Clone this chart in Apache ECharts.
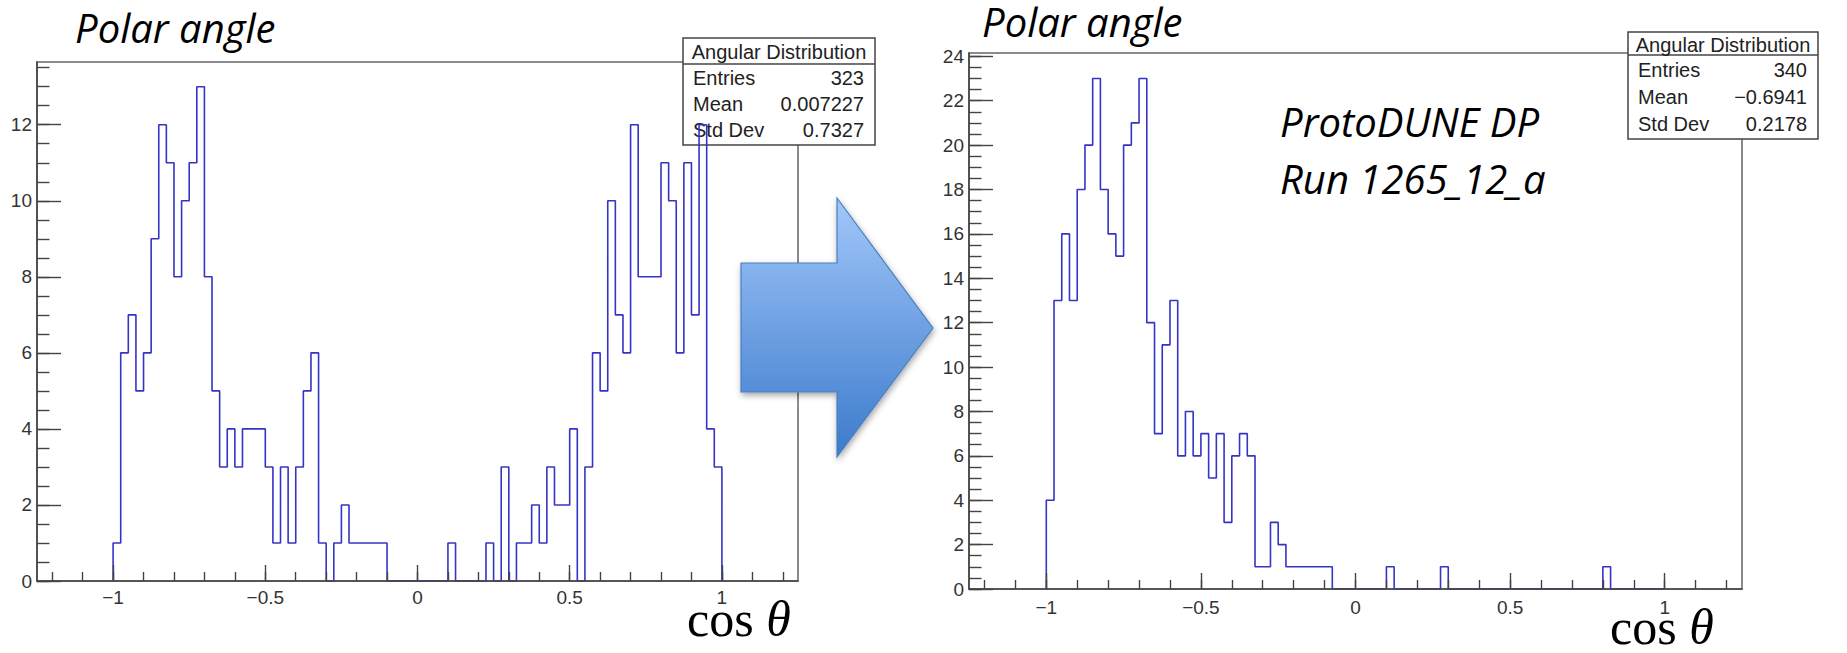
<!DOCTYPE html>
<html>
<head>
<meta charset="utf-8">
<script src="https://cdn.jsdelivr.net/npm/echarts@6/dist/echarts.min.js"></script>
<style>
  html, body { margin: 0; padding: 0; background: #ffffff; }
  #chart { width: 1847px; height: 653px; }
</style>
</head>
<body>
<div id="chart"></div>
<script>
// Angular distribution histograms: 80 bins of width 0.025 covering cos(theta) in [-1, 1]
const binLow = -1;
const binWidth = 0.025;

// Left panel: counts per bin
const countsBefore = [
  1, 6, 7, 5, 6, 9, 12, 11, 8, 10, 11, 13, 8, 5, 3, 4, 3, 4, 4, 4,
  3, 1, 3, 1, 3, 5, 6, 1, 0, 1, 2, 1, 1, 1, 1, 1, 0, 0, 0, 0,
  0, 0, 0, 0, 1, 0, 0, 0, 0, 1, 0, 3, 0, 1, 1, 2, 1, 3, 2, 2,
  4, 0, 3, 6, 5, 10, 7, 6, 12, 8, 8, 8, 11, 10, 6, 11, 7, 12, 4, 3
];

// Right panel: counts per bin
const countsAfter = [
  4, 13, 16, 13, 18, 20, 23, 18, 16, 15, 20, 21, 23, 12, 7, 11, 13, 6, 8, 6,
  7, 5, 7, 3, 6, 7, 6, 1, 1, 3, 2, 1, 1, 1, 1, 1, 1, 0, 0, 0,
  0, 0, 0, 0, 1, 0, 0, 0, 0, 0, 0, 1, 0, 0, 0, 0, 0, 0, 0, 0,
  0, 0, 0, 0, 0, 0, 0, 0, 0, 0, 0, 0, 1, 0, 0, 0, 0, 0, 0, 0
];

// Axis ranges and tick labels
const xRange = [-1.25, 1.25];
const xTickLabels = [-1, -0.5, 0, 0.5, 1];
const yMaxBefore = 13.65;
const yMaxAfter = 24.15;
const yTickLabelsBefore = [0, 2, 4, 6, 8, 10, 12];
const yTickLabelsAfter = [0, 2, 4, 6, 8, 10, 12, 14, 16, 18, 20, 22, 24];

// Statistics boxes
const statsTitle = 'Angular Distribution';
const statsNames = ['Entries', 'Mean', 'Std Dev'];
const statsBefore = ['323', '0.007227', '0.7327'];
const statsAfter = ['340', '\u22120.6941', '0.2178'];

const panelTitle = 'Polar angle';
const runLines = ['ProtoDUNE DP', 'Run 1265_12_a'];

// ---- helpers ----
function stepPoints(counts) {
  const pts = [[binLow, 0]];
  counts.forEach(function (c, i) { pts.push([binLow + i * binWidth, c]); });
  pts.push([binLow + counts.length * binWidth, 0]);
  return pts;
}
function minorList(from, to, step) {
  const out = [];
  for (let v = from; v <= to + 1e-9; v += step) out.push(Math.round(v * 1000) / 1000);
  return out;
}
const xMinor = minorList(-1.2, 1.2, 0.1);
const fmtNum = function (v) { return v < 0 ? '\u2212' + Math.abs(v) : String(v); };

const axisColor = '#444';
const labelFont = { fontFamily: 'Liberation Sans, Arial, sans-serif', fontSize: 19, color: '#333' };

const grids = [
  { left: 37, top: 62, width: 761, height: 519, show: true, borderColor: '#666', borderWidth: 1.5 },
  { left: 969, top: 53, width: 773, height: 536, show: true, borderColor: '#666', borderWidth: 1.5 }
];

function xAxes(g) {
  return [
    {
      gridIndex: g, type: 'value', min: xRange[0], max: xRange[1], position: 'bottom', z: 3,
      axisLine: { show: true, onZero: false, lineStyle: { color: axisColor, width: 1.6 } },
      axisTick: { show: true, inside: true, length: 16, customValues: xTickLabels, lineStyle: { color: axisColor, width: 1.4 } },
      axisLabel: Object.assign({ customValues: xTickLabels, formatter: fmtNum, margin: g === 0 ? 7 : 9 }, labelFont),
      splitLine: { show: false }
    },
    {
      gridIndex: g, type: 'value', min: xRange[0], max: xRange[1], position: 'bottom', z: 3,
      axisLine: { show: false, onZero: false },
      axisTick: { show: true, inside: true, length: 9, customValues: xMinor, lineStyle: { color: axisColor, width: 1.4 } },
      axisLabel: { show: false },
      splitLine: { show: false }
    }
  ];
}
function yAxes(g, yMax, labels) {
  return [
    {
      gridIndex: g, type: 'value', min: 0, max: yMax, position: 'left', z: 3,
      axisLine: { show: true, onZero: false, lineStyle: { color: axisColor, width: 1.6 } },
      axisTick: { show: true, inside: true, length: 24, customValues: labels, lineStyle: { color: axisColor, width: 1.4 } },
      axisLabel: Object.assign({ customValues: labels, margin: 5 }, labelFont),
      splitLine: { show: false }
    },
    {
      gridIndex: g, type: 'value', min: 0, max: yMax, position: 'left', z: 3,
      axisLine: { show: false, onZero: false },
      axisTick: { show: true, inside: true, length: 12.5, customValues: minorList(0, Math.floor(yMax * 2) / 2, 0.5), lineStyle: { color: axisColor, width: 1.4 } },
      axisLabel: { show: false },
      splitLine: { show: false }
    }
  ];
}

function histSeries(counts, g) {
  return {
    type: 'line', xAxisIndex: g * 2, yAxisIndex: g * 2, step: 'end',
    data: stepPoints(counts), symbol: 'none', showSymbol: false, z: 2,
    lineStyle: { color: '#3434c6', width: 1.6 }, animation: false
  };
}

// stats box drawn as a framed table
function statsBox(x, y, w, headH, rowH, values) {
  const font = '20px "Liberation Sans", Arial, sans-serif';
  const children = [
    { type: 'rect', shape: { x: x, y: y, width: w, height: headH + rowH * 3 + 3 },
      style: { fill: '#ffffff', stroke: '#444', lineWidth: 1.5 } },
    { type: 'line', shape: { x1: x, y1: y + headH, x2: x + w, y2: y + headH },
      style: { stroke: '#444', lineWidth: 1.5 } },
    { type: 'text', style: { text: statsTitle, x: x + w / 2, y: y + headH / 2 + 1, align: 'center', verticalAlign: 'middle',
      font: font, fill: '#222' } }
  ];
  statsNames.forEach(function (name, i) {
    const cy = y + headH + rowH * (i + 0.5) + 1;
    children.push({ type: 'text', style: { text: name, x: x + 10, y: cy, align: 'left', verticalAlign: 'middle',
      font: font, fill: '#222' } });
    children.push({ type: 'text', style: { text: values[i], x: x + w - 11, y: cy, align: 'right', verticalAlign: 'middle',
      font: font, fill: '#222' } });
  });
  return { type: 'group', z: 20, children: children };
}

function cosTheta(x, y) {
  return {
    type: 'text', z: 20,
    style: {
      x: x, y: y, verticalAlign: 'middle',
      text: '{n|cos }{i|\u03b8}',
      rich: {
        n: { fontFamily: '"Liberation Serif", "DejaVu Serif", serif', fontSize: 50, lineHeight: 38, fill: '#000' },
        i: { fontFamily: '"Liberation Serif", "DejaVu Serif", serif', fontSize: 50, lineHeight: 38, fontStyle: 'italic', fill: '#000' }
      }
    }
  };
}

const italicFont = 'italic 40px "Open Sans", "Noto Sans", sans-serif';

const chart = echarts.init(document.getElementById('chart'), null, { renderer: 'svg', width: 1847, height: 653 });
chart.setOption({
  animation: false,
  backgroundColor: '#ffffff',
  grid: grids,
  xAxis: xAxes(0).concat(xAxes(1)),
  yAxis: yAxes(0, yMaxBefore, yTickLabelsBefore).concat(yAxes(1, yMaxAfter, yTickLabelsAfter)),
  series: [histSeries(countsBefore, 0), histSeries(countsAfter, 1)],
  graphic: [
    { type: 'text', z: 20, style: { text: panelTitle, x: 75, y: 27, verticalAlign: 'middle', font: italicFont, fill: '#000' } },
    { type: 'text', z: 20, style: { text: panelTitle, x: 982, y: 21, verticalAlign: 'middle', font: italicFont, fill: '#000' } },
    { type: 'text', z: 20, style: { text: runLines[0], x: 1280, y: 121, verticalAlign: 'middle', font: italicFont, fill: '#000' } },
    { type: 'text', z: 20, style: { text: runLines[1], x: 1280, y: 178, verticalAlign: 'middle', font: italicFont, fill: '#000' } },
    statsBox(683, 38, 192, 26, 26, statsBefore),
    statsBox(1628, 32, 190, 23, 27, statsAfter),
    cosTheta(687, 619),
    cosTheta(1610, 627),
    {
      type: 'polygon', z: 30,
      shape: { points: [[741, 263], [837, 263], [837, 198], [933, 328], [837, 457], [837, 392], [741, 392]] },
      style: {
        fill: { type: 'linear', x: 0, y: 0, x2: 0, y2: 1,
          colorStops: [{ offset: 0, color: '#a2c7fa' }, { offset: 1, color: '#3b7bcb' }] },
        stroke: '#4a7ec0', lineWidth: 1.2,
        shadowBlur: 6, shadowColor: 'rgba(0,0,0,0.35)', shadowOffsetY: 3, shadowOffsetX: 1
      }
    }
  ]
});
</script>
</body>
</html>
